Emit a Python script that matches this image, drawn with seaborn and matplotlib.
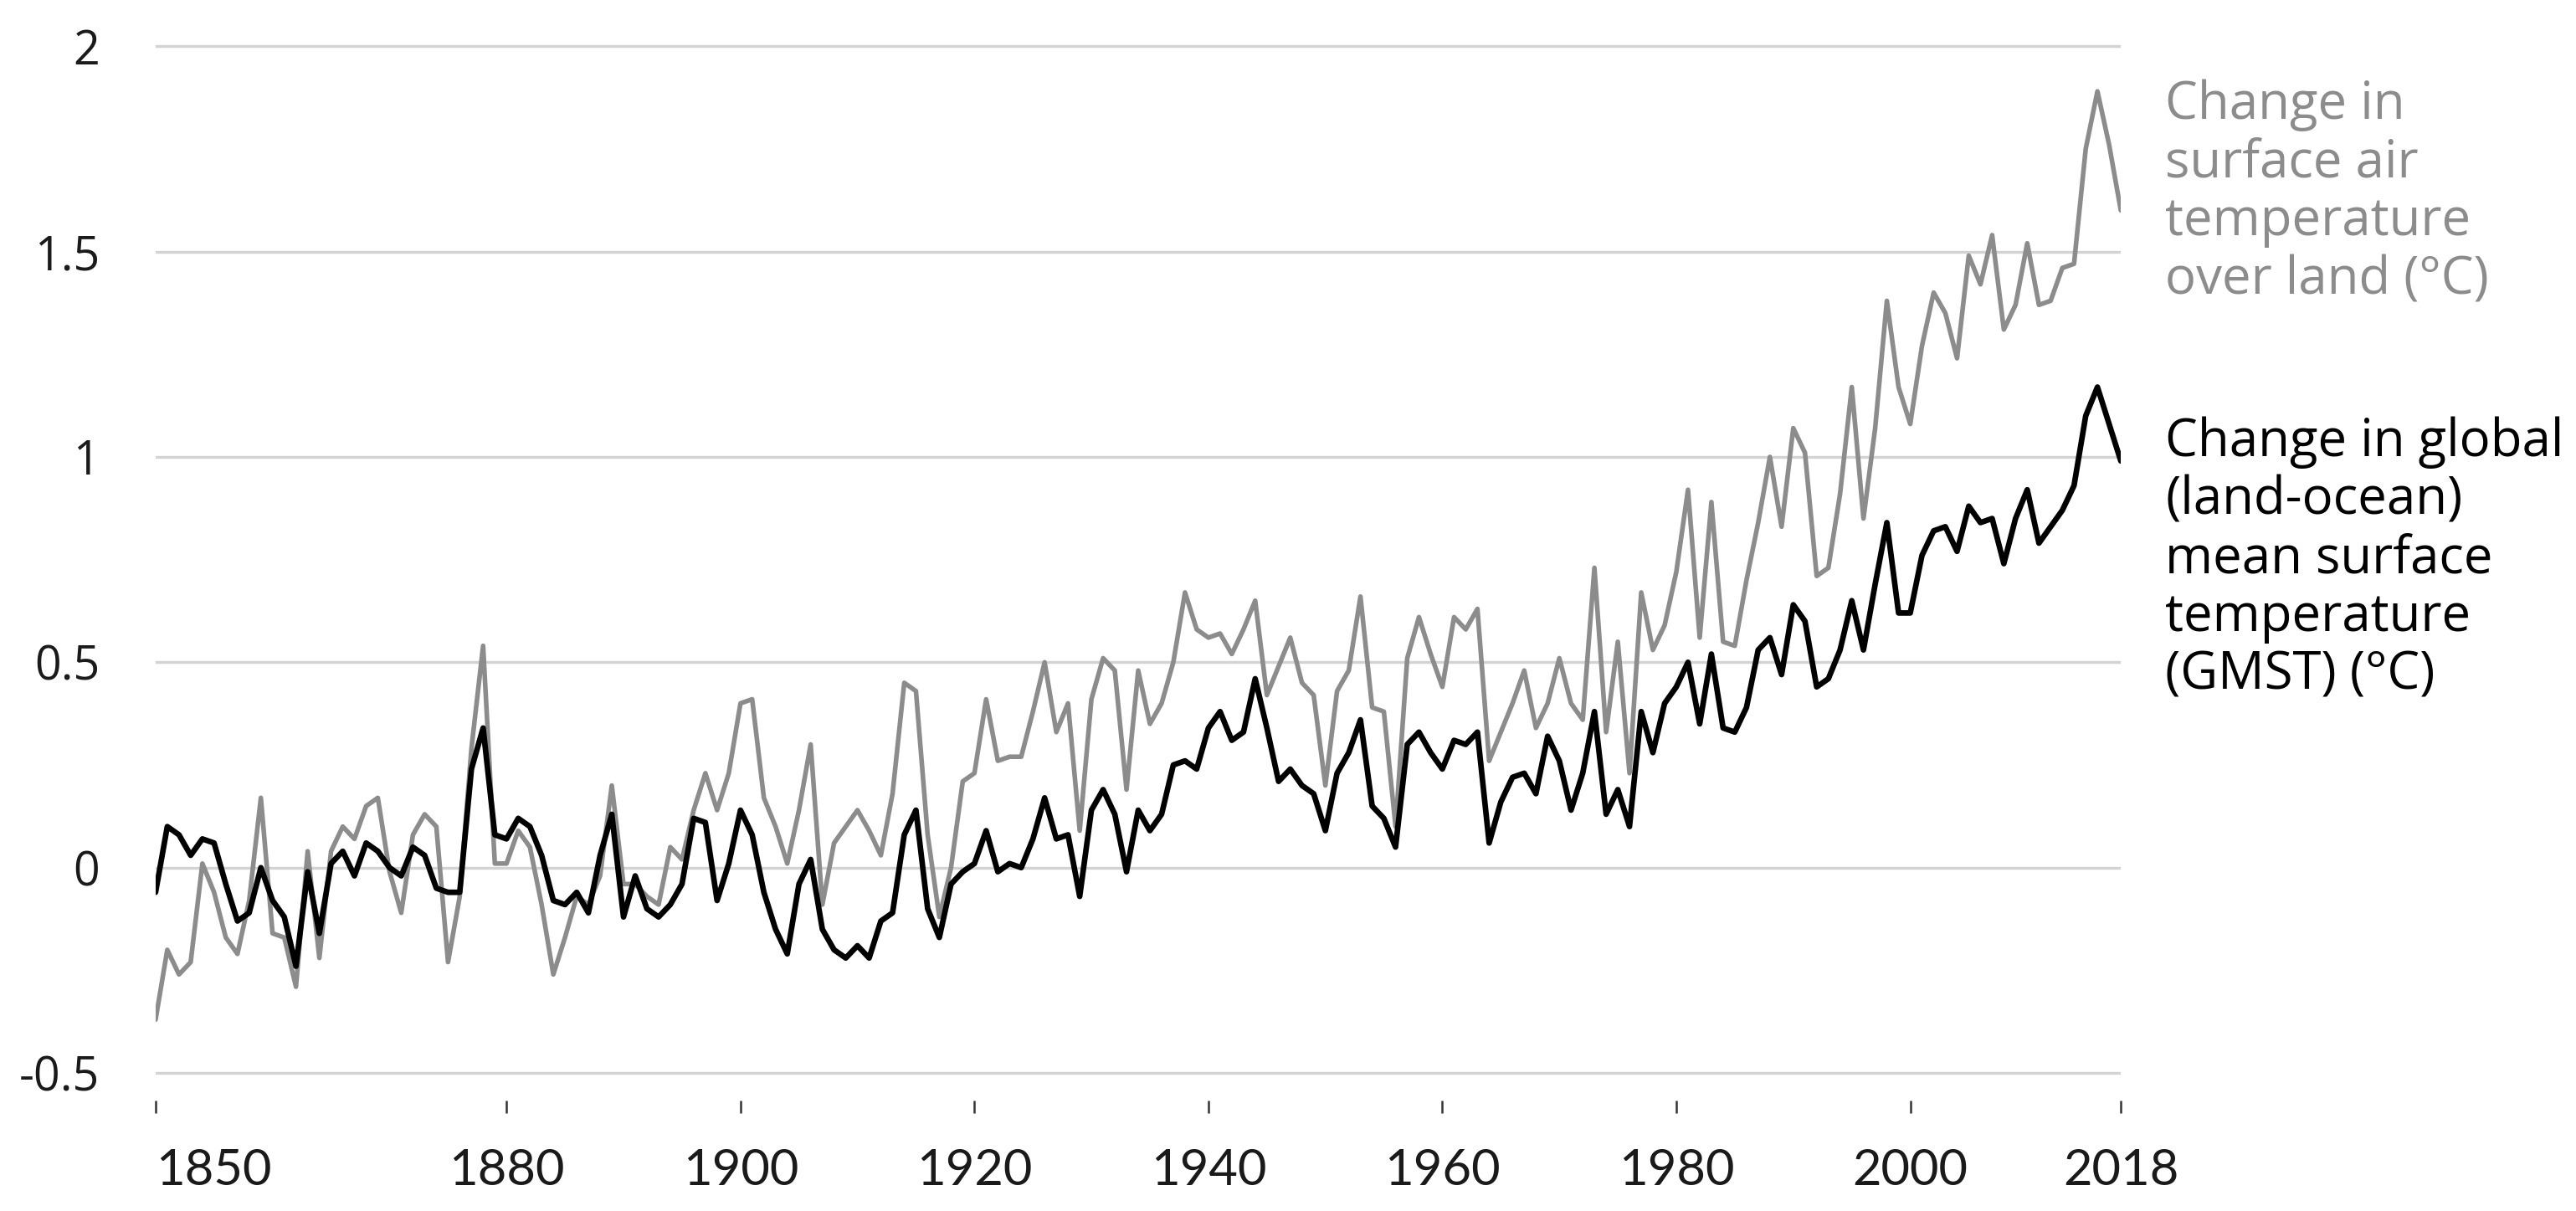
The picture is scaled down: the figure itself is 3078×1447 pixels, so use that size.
import numpy as np
import pandas as pd
import matplotlib
matplotlib.use("Agg")
import matplotlib.pyplot as plt
import seaborn as sns

# === Data ===
years = list(range(1850, 2019))

gmst = [
    -0.06, 0.10, 0.08, 0.03, 0.07, 0.06, -0.04, -0.13, -0.11, 0.00,   # 1850s
    -0.08, -0.12, -0.24, -0.01, -0.16, 0.01, 0.04, -0.02, 0.06, 0.04,  # 1860s
    0.00, -0.02, 0.05, 0.03, -0.05, -0.06, -0.06, 0.24, 0.34, 0.08,    # 1870s
    0.07, 0.12, 0.10, 0.03, -0.08, -0.09, -0.06, -0.11, 0.03, 0.13,    # 1880s
    -0.12, -0.02, -0.10, -0.12, -0.09, -0.04, 0.12, 0.11, -0.08, 0.01, # 1890s
    0.14, 0.08, -0.06, -0.15, -0.21, -0.04, 0.02, -0.15, -0.20, -0.22, # 1900s
    -0.19, -0.22, -0.13, -0.11, 0.08, 0.14, -0.10, -0.17, -0.04, -0.01,# 1910s
    0.01, 0.09, -0.01, 0.01, 0.00, 0.07, 0.17, 0.07, 0.08, -0.07,      # 1920s
    0.14, 0.19, 0.13, -0.01, 0.14, 0.09, 0.13, 0.25, 0.26, 0.24,       # 1930s
    0.34, 0.38, 0.31, 0.33, 0.46, 0.34, 0.21, 0.24, 0.20, 0.18,        # 1940s
    0.09, 0.23, 0.28, 0.36, 0.15, 0.12, 0.05, 0.30, 0.33, 0.28,        # 1950s
    0.24, 0.31, 0.30, 0.33, 0.06, 0.16, 0.22, 0.23, 0.18, 0.32,        # 1960s
    0.26, 0.14, 0.23, 0.38, 0.13, 0.19, 0.10, 0.38, 0.28, 0.40,        # 1970s
    0.44, 0.50, 0.35, 0.52, 0.34, 0.33, 0.39, 0.53, 0.56, 0.47,        # 1980s
    0.64, 0.60, 0.44, 0.46, 0.53, 0.65, 0.53, 0.69, 0.84, 0.62,        # 1990s
    0.62, 0.76, 0.82, 0.83, 0.77, 0.88, 0.84, 0.85, 0.74, 0.85,        # 2000s
    0.92, 0.79, 0.83, 0.87, 0.93, 1.10, 1.17, 1.08, 0.99,              # 2010-2018
]

land = [
    -0.37, -0.20, -0.26, -0.23, 0.01, -0.06, -0.17, -0.21, -0.08, 0.17, # 1850s
    -0.16, -0.17, -0.29, 0.04, -0.22, 0.04, 0.10, 0.07, 0.15, 0.17,     # 1860s
    -0.01, -0.11, 0.08, 0.13, 0.10, -0.23, -0.07, 0.29, 0.54, 0.01,     # 1870s
    0.01, 0.09, 0.05, -0.09, -0.26, -0.17, -0.07, -0.09, -0.02, 0.20,   # 1880s
    -0.04, -0.04, -0.07, -0.09, 0.05, 0.02, 0.14, 0.23, 0.14, 0.23,     # 1890s
    0.40, 0.41, 0.17, 0.10, 0.01, 0.14, 0.30, -0.09, 0.06, 0.10,        # 1900s
    0.14, 0.09, 0.03, 0.18, 0.45, 0.43, 0.08, -0.12, 0.00, 0.21,        # 1910s
    0.23, 0.41, 0.26, 0.27, 0.27, 0.38, 0.50, 0.33, 0.40, 0.09,         # 1920s
    0.41, 0.51, 0.48, 0.19, 0.48, 0.35, 0.40, 0.50, 0.67, 0.58,         # 1930s
    0.56, 0.57, 0.52, 0.58, 0.65, 0.42, 0.49, 0.56, 0.45, 0.42,         # 1940s
    0.20, 0.43, 0.48, 0.66, 0.39, 0.38, 0.10, 0.51, 0.61, 0.52,         # 1950s
    0.44, 0.61, 0.58, 0.63, 0.26, 0.33, 0.40, 0.48, 0.34, 0.40,         # 1960s
    0.51, 0.40, 0.36, 0.73, 0.33, 0.55, 0.23, 0.67, 0.53, 0.59,         # 1970s
    0.72, 0.92, 0.56, 0.89, 0.55, 0.54, 0.70, 0.84, 1.00, 0.83,         # 1980s
    1.07, 1.01, 0.71, 0.73, 0.91, 1.17, 0.85, 1.07, 1.38, 1.17,         # 1990s
    1.08, 1.27, 1.40, 1.35, 1.24, 1.49, 1.42, 1.54, 1.31, 1.37,         # 2000s
    1.52, 1.37, 1.38, 1.46, 1.47, 1.75, 1.89, 1.76, 1.60,               # 2010-2018
]

ytick_vals = [-0.5, 0, 0.5, 1, 1.5, 2]
ytick_labels = ["-0.5", "0", "0.5", "1", "1.5", "2"]
xtick_vals = [1850, 1880, 1900, 1920, 1940, 1960, 1980, 2000, 2018]

land_label = "Change in\nsurface air\ntemperature\nover land (°C)"
gmst_label = "Change in global\n(land-ocean)\nmean surface\ntemperature\n(GMST) (°C)"

df = pd.DataFrame({"year": years, "land": land, "gmst": gmst})

# === Plot ===
sns.set_theme(style="white")
plt.rcParams["font.family"] = ["Open Sans", "DejaVu Sans"]

GRAY = "#8c8c8c"

fig = plt.figure(figsize=(30.78, 14.47), dpi=100)
ax = fig.add_axes([0.0604, 0.0912, 0.7629, 0.8775])

sns.lineplot(data=df, x="year", y="land", color=GRAY, linewidth=4.0, ax=ax)
sns.lineplot(data=df, x="year", y="gmst", color="black", linewidth=4.8, ax=ax)

ax.set_xlim(1850, 2018)
ax.set_ylim(-0.567, 2.02)

ax.set_yticks(ytick_vals)
ax.set_yticklabels(ytick_labels)
ax.set_xticks(xtick_vals)
ax.set_xticklabels([str(y) for y in xtick_vals], family=["Lato", "DejaVu Sans"])
# first year label sits to the right of its tick
ax.get_xticklabels()[0].set_ha("left")

ax.yaxis.grid(True, color="#d3d3d3", linewidth=2.4)
ax.xaxis.grid(False)
ax.set_axisbelow(True)
for s in ax.spines.values():
    s.set_visible(False)

ax.tick_params(axis="y", length=0, pad=48, labelsize=40, labelcolor="#1a1a1a")
ax.tick_params(axis="x", length=11, width=1.8, color="#333333", direction="out",
               pad=30, labelsize=43, labelcolor="#1a1a1a", bottom=True)
ax.set_xlabel("")
ax.set_ylabel("")

ax.text(2021.8, 1.643, land_label, color=GRAY, fontsize=44.5, ha="left", va="center",
        linespacing=1.15, clip_on=False)
ax.text(2021.8, 0.751, gmst_label, color="black", fontsize=44.5, ha="left", va="center",
        linespacing=1.15, clip_on=False)

fig.savefig("out.png", dpi=100, facecolor="white")
